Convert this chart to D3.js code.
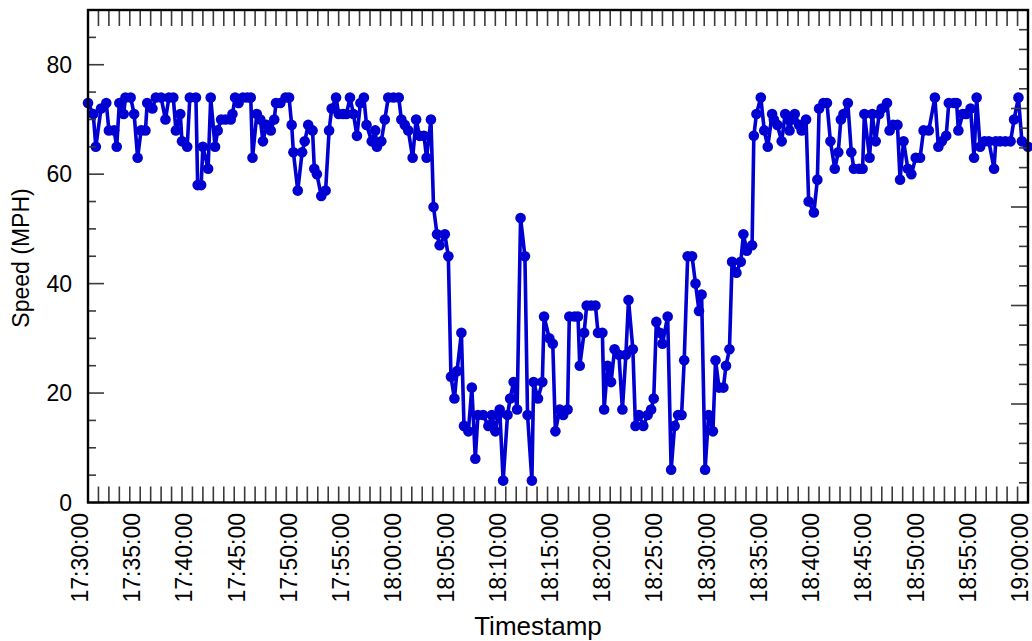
<!DOCTYPE html>
<html>
<head>
<meta charset="utf-8">
<script src="https://cdn.jsdelivr.net/npm/d3@7/dist/d3.min.js"></script>
<style>
  html, body { margin: 0; padding: 0; background: #fff; }
  svg { display: block; }
  text { font-family: "Liberation Sans", Arial, sans-serif; fill: #000; }
</style>
</head>
<body>
<svg id="chart" width="1032" height="641"></svg>
<script>
// Speed samples: seconds elapsed since the start time, and speed in MPH
const startTime = "17:30:00";
const endTime = "19:00:00";

const elapsedSec = [
  0, 30, 45, 75, 105, 120, 150, 165, 180, 205, 215, 245, 265, 285, 305, 330, 340, 370, 390, 420,
  445, 465, 490, 505, 530, 540, 570, 585, 620, 630, 650, 660, 690, 705, 730, 745, 765, 790, 820, 830,
  845, 865, 890, 915, 935, 945, 970, 990, 1005, 1025, 1050, 1070, 1080, 1105, 1135, 1155, 1170, 1180, 1205, 1230,
  1245, 1265, 1290, 1300, 1315, 1340,
  1365, 1385, 1400, 1425, 1440, 1465, 1485, 1505, 1525, 1545, 1565, 1585, 1600, 1630, 1650, 1660, 1685, 1705, 1725, 1755,
  1785, 1800, 1820, 1840, 1865, 1885, 1905, 1930, 1945, 1970, 1985, 2005, 2020, 2050, 2070, 2085, 2105, 2120, 2145, 2160,
  2185, 2205, 2225, 2240, 2270, 2300, 2320, 2340, 2355, 2365, 2385, 2410, 2425, 2445, 2465, 2485, 2510, 2525, 2550, 2560,
  2585, 2610, 2620, 2650, 2670, 2685, 2710, 2730, 2755,
  2765, 2795, 2815, 2825, 2850, 2865, 2890, 2915, 2930, 2955, 2965, 2985, 3005, 3025, 3050, 3070, 3090, 3105, 3130, 3145,
  3165, 3190, 3215, 3235, 3250, 3265, 3285, 3300, 3330, 3350, 3370, 3390, 3410, 3425, 3445, 3470, 3490, 3510, 3525, 3545,
  3565, 3590, 3605, 3625, 3650, 3665, 3685, 3700, 3725, 3750, 3765, 3785, 3815, 3825, 3840, 3865, 3885, 3905, 3930, 3940,
  3960, 3985, 4005, 4030, 4045, 4060, 4085, 4100, 4125,
  4140, 4170, 4190, 4200, 4225, 4245, 4265, 4290, 4310, 4325, 4340, 4365, 4385, 4400, 4430, 4450, 4460, 4490, 4505, 4525,
  4545, 4560, 4590, 4605, 4625, 4650, 4665, 4685, 4710, 4730, 4755, 4780, 4800, 4830, 4865, 4885, 4905, 4930, 4945, 4975,
  4990, 5000, 5025, 5045, 5070, 5090, 5105, 5125, 5150, 5175, 5205, 5215, 5240, 5270, 5300, 5320, 5345, 5365, 5400
];

const speedMph = [
  73, 71, 65, 72, 73, 68, 68, 65, 73, 71, 74, 74, 71, 63, 68, 68, 73, 72, 74, 74,
  70, 74, 74, 68, 71, 66, 65, 74, 74, 58, 58, 65, 61, 74, 65, 68, 70, 70, 70, 71,
  74, 73, 74, 74, 74, 63, 71, 70, 66, 69, 68, 70, 73, 73, 74, 74, 69, 64, 57, 64,
  66, 69, 68, 61, 60, 56,
  57, 68, 72, 74, 71, 71, 71, 74, 71, 67, 73, 74, 69, 66, 68, 65, 66, 70, 74, 74,
  74, 70, 69, 68, 63, 70, 67, 67, 63, 70, 54, 49, 47, 49, 45, 23, 19, 24, 31, 14,
  13, 21, 8, 16, 16, 14, 16, 13, 16, 17, 4, 16, 19, 22, 17, 52, 45, 16, 4, 22,
  19, 22, 34, 30, 29, 13, 17, 16, 17,
  34, 34, 34, 25, 31, 36, 36, 36, 31, 31, 17, 25, 22, 28, 27, 17, 27, 37, 28, 14,
  16, 14, 16, 17, 19, 33, 31, 29, 34, 6, 14, 16, 16, 26, 45, 45, 40, 35, 38, 6,
  16, 13, 26, 21, 21, 25, 28, 44, 42, 44, 49, 46, 47, 67, 71, 74, 68, 65, 71, 70,
  69, 66, 71, 68, 70, 71, 69, 68, 70,
  55, 53, 59, 72, 73, 73, 66, 61, 64, 70, 71, 73, 64, 61, 61, 61, 71, 63, 71, 66,
  71, 72, 73, 68, 69, 69, 59, 66, 61, 60, 63, 63, 68, 68, 74, 65, 66, 67, 73, 73,
  73, 68, 71, 71, 72, 63, 74, 65, 66, 66, 61, 66, 66, 66, 66, 70, 74, 66, 65
];

const yTickValues = [0, 20, 40, 60, 80];
const xLabelEveryMinutes = 5;

const parseClock = d3.timeParse("%H:%M:%S");
const t0 = parseClock(startTime);
const t1 = parseClock(endTime);
const data = elapsedSec.map((s, i) => ({ t: new Date(t0.getTime() + s * 1000), v: speedMph[i] }));

const svg = d3.select("#chart");
const plot = { left: 88, right: 1028, top: 10, bottom: 502.5 };

const x = d3.scaleTime().domain([t0, t1]).range([plot.left, plot.right]);
const y = d3.scaleLinear().domain([0, 90]).range([plot.bottom, plot.top]);
// unlabelled secondary scale carried by the right-hand frame
const yRight = d3.scaleLinear().domain([0, 25]).range([plot.bottom, plot.top]);

const blue = "#0000d2";

// series line and markers
svg.append("path")
  .datum(data)
  .attr("fill", "none")
  .attr("stroke", blue)
  .attr("stroke-width", 3.6)
  .attr("stroke-linejoin", "round")
  .attr("d", d3.line().x(d => x(d.t)).y(d => y(d.v)));

svg.append("g")
  .selectAll("circle")
  .data(data)
  .join("circle")
  .attr("cx", d => x(d.t))
  .attr("cy", d => y(d.v))
  .attr("r", 5.3)
  .attr("fill", blue);

// inward tick marks
const tickColor = "#3a3a3a";
const minuteTicks = d3.timeMinute.every(1).range(t0, d3.timeMinute.offset(t1, 1));
const ticks = svg.append("g").attr("stroke", tickColor).attr("stroke-width", 1.6);

ticks.selectAll(".tb").data(minuteTicks).join("line")
  .attr("x1", d => x(d)).attr("x2", d => x(d))
  .attr("y1", plot.bottom).attr("y2", plot.bottom - 16);
ticks.selectAll(".tt").data(minuteTicks).join("line")
  .attr("x1", d => x(d)).attr("x2", d => x(d))
  .attr("y1", plot.top).attr("y2", plot.top + 16);

const yMinor = d3.range(0, 91, 5);
ticks.selectAll(".yl").data(yMinor).join("line")
  .attr("x1", plot.left).attr("x2", d => plot.left + (d % 20 === 0 ? 16 : 8))
  .attr("y1", d => y(d)).attr("y2", d => y(d));

const rMinor = d3.range(0, 26, 1);
ticks.selectAll(".yr").data(rMinor).join("line")
  .attr("x1", plot.right).attr("x2", d => plot.right - (d % 5 === 0 ? 17 : 9))
  .attr("y1", d => yRight(d)).attr("y2", d => yRight(d));

// frame
svg.append("rect")
  .attr("x", plot.left).attr("y", plot.top)
  .attr("width", plot.right - plot.left).attr("height", plot.bottom - plot.top)
  .attr("fill", "none").attr("stroke", "#000").attr("stroke-width", 2.4);

// y tick labels
svg.append("g").selectAll("text").data(yTickValues).join("text")
  .attr("x", 72).attr("y", d => y(d)).attr("dy", "0.36em")
  .attr("text-anchor", "end").attr("font-size", 23)
  .text(d => d);

// x tick labels, rotated
const fmt = d3.timeFormat("%H:%M:%S");
const labelTimes = d3.timeMinute.every(xLabelEveryMinutes).range(t0, d3.timeMinute.offset(t1, 1));
svg.append("g").selectAll("text").data(labelTimes).join("text")
  .attr("transform", d => `translate(${x(d)},513) rotate(-90)`)
  .attr("text-anchor", "end").attr("font-size", 23)
  .text(d => fmt(d));

// axis titles
svg.append("text")
  .attr("x", 538).attr("y", 635)
  .attr("text-anchor", "middle").attr("font-size", 26)
  .text("Timestamp");

svg.append("text")
  .attr("transform", "translate(29,258) rotate(-90)")
  .attr("text-anchor", "middle").attr("font-size", 23)
  .text("Speed (MPH)");
</script>
</body>
</html>
